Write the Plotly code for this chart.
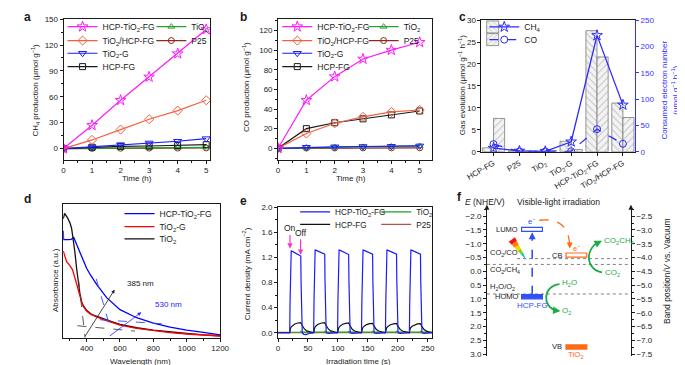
import plotly.graph_objects as go

W, H = 685, 365
FONT = "Liberation Sans, Arial, Helvetica, sans-serif"
INK = "#1a1a1a"

# ======================= DATA =======================
# --- panels a & b: production vs time ---
time_h = [0, 1, 2, 3, 4, 5]
samples_ab = ["HCP-TiO2-FG", "TiO2/HCP-FG", "TiO2-G", "HCP-FG", "TiO2", "P25"]

ch4_HCP_TiO2_FG = [0, 27, 56, 83, 110, 138]
ch4_TiO2_HCP_FG = [0, 10, 22, 34, 44, 56]
ch4_TiO2_G = [0, 2, 4.5, 6.5, 8.5, 11.5]
ch4_HCP_FG = [0, 1.5, 2.5, 3, 3.5, 4.5]
ch4_TiO2 = [0, 0.4, 0.6, 0.8, 1.0, 1.3]
ch4_P25 = [0, 0.2, 0.4, 0.5, 0.6, 0.8]

co_HCP_TiO2_FG = [0, 49, 73, 91, 100, 108]
co_TiO2_HCP_FG = [0, 15, 25.5, 32, 37, 39]
co_TiO2_G = [0, 1, 1.5, 1.8, 2.0, 2.4]
co_HCP_FG = [0, 20, 26, 30, 34, 38]
co_TiO2 = [0, 0.5, 1.0, 1.4, 1.8, 2.4]
co_P25 = [0, 0.2, 0.3, 0.4, 0.4, 0.5]

# --- panel c: evolution rates and consumed electrons ---
samples_c = ["HCP-FG", "P25", "TiO2", "TiO2-G", "HCP-TiO2-FG", "TiO2/HCP-FG"]
rate_ch4 = [0.9, 0.2, 0.1, 2.4, 27.6, 11.1]
rate_co = [7.6, 0.15, 0.3, 0.5, 21.6, 7.8]
electrons_ch4 = [7, 1.5, 0.8, 19, 221, 89]
electrons_co = [14.5, 0.5, 0.6, 1.0, 43, 15]

# --- panel d: UV-vis absorbance ---
wl_HCP_TiO2_FG = [260, 262, 290, 308, 323, 340, 366, 400, 423, 460, 520, 600, 700, 800, 900, 1000, 1100, 1200]
abs_HCP_TiO2_FG = [0.80, 0.735, 0.735, 0.737, 0.75, 0.70, 0.61, 0.52, 0.47, 0.40, 0.30, 0.21, 0.15, 0.11, 0.08, 0.057, 0.04, 0.022]
wl_TiO2_G = [260, 270, 280, 300, 315, 325, 340, 355, 370, 380, 400, 425, 450, 500, 550, 600, 700, 800, 900, 1000, 1100, 1200]
abs_TiO2_G = [0.65, 0.60, 0.57, 0.54, 0.51, 0.47, 0.40, 0.32, 0.27, 0.235, 0.20, 0.175, 0.16, 0.135, 0.115, 0.095, 0.07, 0.052, 0.038, 0.028, 0.02, 0.013]
wl_TiO2 = [260, 268, 285, 300, 310, 320, 330, 340, 350, 360, 370, 380, 400, 425, 450, 500, 550, 600, 700, 800, 900, 1000, 1100, 1200]
abs_TiO2 = [0.89, 0.93, 0.90, 0.86, 0.82, 0.74, 0.64, 0.52, 0.42, 0.33, 0.27, 0.24, 0.205, 0.18, 0.165, 0.14, 0.12, 0.10, 0.075, 0.057, 0.043, 0.032, 0.022, 0.015]
edge_TiO2_nm = 385
edge_HCP_TiO2_FG_nm = 530

# --- panel e: transient photocurrent ---
t_HCP_TiO2_FG = [0, 19.5, 20.1, 20.6, 21.2, 22.0, 24, 30, 38, 38.5, 39.0, 39.6, 40.5, 43, 47, 52, 56,
                 59.5, 60.1, 60.6, 61.2, 62.0, 64, 70, 78, 78.5, 79.0, 79.6, 80.5, 84, 90, 96,
                 99.5, 100.1, 100.6, 101.2, 102.0, 104, 110, 118, 118.5, 119.0, 119.6, 120.5, 124, 130, 136,
                 139.5, 140.1, 140.6, 141.2, 142.0, 144, 150, 158, 158.5, 159.0, 159.6, 160.5, 164, 170, 176,
                 179.5, 180.1, 180.6, 181.2, 182.0, 184, 190, 198, 198.5, 199.0, 199.6, 200.5, 204, 210, 216,
                 219.5, 220.1, 220.6, 221.2, 222.0, 224, 230, 238, 238.5, 239.0, 239.6, 240.5, 244, 250, 258]
j_HCP_TiO2_FG = [0, 0, 0.50, 1.05, 1.26, 1.30, 1.295, 1.265, 1.22, 0.80, 0.30, 0.06, -0.005, -0.025, -0.03, -0.012, 0,
                 0, 0.50, 1.07, 1.28, 1.315, 1.31, 1.285, 1.25, 0.82, 0.30, 0.06, 0.0, -0.01, -0.005, 0,
                 0, 0.50, 1.07, 1.28, 1.315, 1.31, 1.28, 1.245, 0.82, 0.30, 0.06, 0.0, -0.01, -0.005, 0,
                 0, 0.50, 1.07, 1.28, 1.315, 1.31, 1.285, 1.25, 0.82, 0.30, 0.06, 0.0, -0.01, -0.005, 0,
                 0, 0.50, 1.07, 1.28, 1.315, 1.31, 1.285, 1.25, 0.82, 0.30, 0.06, 0.0, -0.01, -0.005, 0,
                 0, 0.50, 1.07, 1.28, 1.315, 1.31, 1.285, 1.25, 0.82, 0.30, 0.06, 0.0, -0.01, -0.005, 0]
t_HCP_FG = [0, 19.5, 20.3, 21.5, 24, 28, 33, 38, 39, 41, 44, 48, 53, 58,
            59.5, 60.3, 61.5, 64, 68, 73, 78, 79, 81, 84, 88, 93, 98,
            99.5, 100.3, 101.5, 104, 108, 113, 118, 119, 121, 124, 128, 133, 138,
            139.5, 140.3, 141.5, 144, 148, 153, 158, 159, 161, 164, 168, 173, 178,
            179.5, 180.3, 181.5, 184, 188, 193, 198, 199, 201, 204, 208, 213, 218,
            219.5, 220.3, 221.5, 224, 228, 233, 238, 239, 241, 244, 248, 253, 258]
j_HCP_FG = [0, 0, 0.05, 0.085, 0.11, 0.14, 0.155, 0.16, 0.14, 0.10, 0.06, 0.03, 0.01, 0,
            0, 0.05, 0.085, 0.115, 0.14, 0.155, 0.16, 0.14, 0.10, 0.06, 0.03, 0.01, 0,
            0, 0.05, 0.08, 0.11, 0.135, 0.15, 0.155, 0.135, 0.095, 0.055, 0.028, 0.01, 0,
            0, 0.048, 0.08, 0.105, 0.13, 0.145, 0.15, 0.13, 0.09, 0.055, 0.028, 0.01, 0,
            0, 0.047, 0.078, 0.105, 0.128, 0.142, 0.148, 0.128, 0.09, 0.053, 0.027, 0.01, 0,
            0, 0.046, 0.077, 0.103, 0.125, 0.14, 0.145, 0.125, 0.088, 0.052, 0.026, 0.01, 0]
t_TiO2 = [0, 38, 38.3, 39, 78, 78.3, 79, 118, 118.3, 119, 158, 158.3, 159, 198, 198.3, 199, 238, 238.3, 239, 258]
j_TiO2 = [0.008, 0.008, 0.03, 0.01, 0.01, 0.03, 0.01, 0.01, 0.03, 0.01, 0.01, 0.03, 0.01, 0.01, 0.03, 0.01, 0.01, 0.03, 0.01, 0.01]
t_P25 = [0, 258]
j_P25 = [0.0, 0.0]
light_on_s = 20
light_off_s = 37.7

# --- panel f: band alignment (E vs NHE, V) ---
level_names = ["LUMO", "HOMO", "CB", "VB"]
level_NHE = [-1.52, 0.92, -0.59, 2.74]
redox_names = ["CO<sub>2</sub>/CO", "CO<sub>2</sub>/CH<sub>4</sub>", "H<sub>2</sub>O/O<sub>2</sub>"]
redox_NHE = [-0.46, -0.25, 0.82]
vacuum_offset = -4.5   # E(vacuum) = -E(NHE) - 4.5

# ======================= HELPERS =======================
def html(s):
    return s.replace("TiO2", "TiO<sub>2</sub>")

def xdom(a, b):
    return [a / W, b / W]

def ydom(top, bot):
    return [1 - bot / H, 1 - top / H]

def ann_px(text, x, y, size=8, color=INK, angle=0, xanchor="center", yanchor="middle"):
    return dict(text=text, x=x / W, y=1 - y / H, xref="paper", yref="paper", showarrow=False,
                font=dict(size=size, color=color, family=FONT), textangle=angle,
                xanchor=xanchor, yanchor=yanchor)

legends = {}
_leg_n = [0]

def new_legend(x_px, y_px, size=8.5):
    _leg_n[0] += 1
    n = _leg_n[0]
    key = "legend" if n == 1 else "legend%d" % n
    legends[key] = dict(x=x_px / W, y=1 - y_px / H, xanchor="left", yanchor="middle",
                        bgcolor="rgba(0,0,0,0)", borderwidth=0, itemwidth=30,
                        font=dict(size=size, family=FONT, color=INK), tracegroupgap=0,
                        itemclick=False, itemdoubleclick=False)
    return key

def axis(**kw):
    base = dict(showline=True, linecolor=INK, linewidth=0.8, ticks="outside", ticklen=3,
                tickwidth=0.8, tickcolor=INK, tickfont=dict(size=8, color=INK, family=FONT),
                showgrid=False, zeroline=False, mirror=True)
    base.update(kw)
    return base

def minor(dt, color=INK):
    return dict(dtick=dt, ticks="outside", ticklen=2, tickwidth=0.7, tickcolor=color, showgrid=False)

STYLE_AB = {
    "HCP-TiO2-FG": dict(color="#FF1AFF", symbol="star-open", size=8),
    "TiO2/HCP-FG": dict(color="#F2603F", symbol="diamond-open", size=7),
    "TiO2-G": dict(color="#1A1AFF", symbol="triangle-down-open", size=7),
    "HCP-FG": dict(color="#1a1a1a", symbol="square-open", size=6),
    "TiO2": dict(color="#2E9E2E", symbol="triangle-up-open", size=6),
    "P25": dict(color="#8B2A20", symbol="circle-open", size=6),
}
CH4 = {"HCP-TiO2-FG": ch4_HCP_TiO2_FG, "TiO2/HCP-FG": ch4_TiO2_HCP_FG, "TiO2-G": ch4_TiO2_G,
       "HCP-FG": ch4_HCP_FG, "TiO2": ch4_TiO2, "P25": ch4_P25}
CO = {"HCP-TiO2-FG": co_HCP_TiO2_FG, "TiO2/HCP-FG": co_TiO2_HCP_FG, "TiO2-G": co_TiO2_G,
      "HCP-FG": co_HCP_FG, "TiO2": co_TiO2, "P25": co_P25}
LEG_A = {"HCP-TiO2-FG": (41, 15), "TiO2/HCP-FG": (41, 29.3), "TiO2-G": (41, 42.3), "HCP-FG": (41, 56),
         "TiO2": (133, 15), "P25": (133, 29.3)}
LEG_B = {"HCP-TiO2-FG": (263.5, 15), "TiO2/HCP-FG": (263.5, 29.3), "TiO2-G": (263.5, 42.3),
         "HCP-FG": (263.5, 56), "TiO2": (353, 15), "P25": (353, 29.3)}

fig = go.Figure()

# ======================= PANEL a & b =======================
for panel, data, leg, xa, ya in (("a", CH4, LEG_A, "x", "y"), ("b", CO, LEG_B, "x2", "y2")):
    for s in samples_ab[::-1]:
        st = STYLE_AB[s]
        fig.add_trace(go.Scatter(
            x=time_h, y=data[s], name=html(s), mode="lines+markers", xaxis=xa, yaxis=ya,
            line=dict(color=st["color"], width=1.2),
            marker=dict(symbol=st["symbol"], size=st["size"], color=st["color"], line=dict(width=1, color=st["color"])),
            legend=new_legend(*leg[s]), hoverinfo="skip"))

# ======================= PANEL c =======================
cats = [html(c) for c in samples_c]
BAR_LINE = dict(color="#6a6a6a", width=0.7)
fig.add_trace(go.Bar(x=cats, y=rate_ch4, name=" ", xaxis="x3", yaxis="y3", offsetgroup="ch4",
                     marker=dict(color="#f3f3f3", line=BAR_LINE,
                                 pattern=dict(shape="\\", fgcolor="#8a8a8a", bgcolor="#f3f3f3", size=5, solidity=0.18)),
                     legend=new_legend(466, 15.3), hoverinfo="skip"))
fig.add_trace(go.Bar(x=cats, y=rate_co, name=" ", xaxis="x3", yaxis="y3", offsetgroup="co",
                     marker=dict(color="#f3f3f3", line=BAR_LINE,
                                 pattern=dict(shape="/", fgcolor="#8a8a8a", bgcolor="#f3f3f3", size=5, solidity=0.18)),
                     legend=new_legend(466, 28.3), hoverinfo="skip"))
BLUE_C = "#2B2BFF"
fig.add_trace(go.Scatter(x=cats, y=electrons_ch4, name="CH<sub>4</sub>", mode="lines+markers", xaxis="x3", yaxis="y4",
                         line=dict(color=BLUE_C, width=1.3),
                         marker=dict(symbol="star-open", size=8, color=BLUE_C, line=dict(width=1, color=BLUE_C)),
                         legend=new_legend(478, 15.3), hoverinfo="skip"))
fig.add_trace(go.Scatter(x=cats, y=electrons_co, name="CO", mode="lines+markers", xaxis="x3", yaxis="y4",
                         line=dict(color=BLUE_C, width=1.3, dash="dash"),
                         marker=dict(symbol="circle-open", size=7, color=BLUE_C, line=dict(width=1, color=BLUE_C)),
                         legend=new_legend(478, 28.3), hoverinfo="skip"))

# ======================= PANEL d =======================
for name, xs, ys, col, ly in (("HCP-TiO2-FG", wl_HCP_TiO2_FG, abs_HCP_TiO2_FG, "#0000FF", 206.7),
                              ("TiO2", wl_TiO2, abs_TiO2, "#111111", 232.7),
                              ("TiO2-G", wl_TiO2_G, abs_TiO2_G, "#FF0000", 220.0)):
    fig.add_trace(go.Scatter(x=xs, y=ys, name=html(name), mode="lines", xaxis="x4", yaxis="y5",
                             line=dict(color=col, width=1.3), legend=new_legend(100, ly), hoverinfo="skip"))

# ======================= PANEL e =======================
for name, xs, ys, col, lx, ly in (("P25", t_P25, j_P25, "#B0544A", 366, 217.7),
                                  ("TiO2", t_TiO2, j_TiO2, "#1AA01A", 366, 205),
                                  ("HCP-FG", t_HCP_FG, j_HCP_FG, "#111111", 282, 217.7),
                                  ("HCP-TiO2-FG", t_HCP_TiO2_FG, j_HCP_TiO2_FG, "#1A1AFF", 282, 205)):
    fig.add_trace(go.Scatter(x=xs, y=ys, name=html(name), mode="lines", xaxis="x5", yaxis="y6",
                             line=dict(color=col, width=1.2), legend=new_legend(lx, ly, size=8.2), hoverinfo="skip"))

# ======================= PANEL f (band diagram) =======================
FX0, FX1 = 480.7, 630.0
FY_TOP_NHE, FY_BOT_NHE = -2.3, 3.05
FY_TOP_PX, FY_BOT_PX = 200.8, 352.2

def fx(px):
    return (px - FX0) / (FX1 - FX0)

def fy(py):
    return FY_TOP_NHE + (py - FY_TOP_PX) / (FY_BOT_PX - FY_TOP_PX) * (FY_BOT_NHE - FY_TOP_NHE)

lv = dict(zip(level_names, level_NHE))
BLUE_F = "#3050F8"
ORANGE_F = "#FF6A14"
GREEN_F = "#1FAA48"
HALF = 0.075
COL_HCP = (fx(516.7), fx(538.3))
COL_TIO2 = (fx(562.7), fx(584.3))
level_cols = {"LUMO": COL_HCP, "HOMO": COL_HCP, "CB": COL_TIO2, "VB": COL_TIO2}

# invisible anchor traces so that both energy scales are drawn
fig.add_trace(go.Scatter(x=[sum(level_cols[n]) / 2 for n in level_names], y=level_NHE, mode="markers",
                         marker=dict(opacity=0, size=1), xaxis="x6", yaxis="y7", showlegend=False, hoverinfo="skip"))
fig.add_trace(go.Scatter(x=[sum(level_cols[n]) / 2 for n in level_names], y=[-e + vacuum_offset for e in level_NHE],
                         mode="markers", marker=dict(opacity=0, size=1), xaxis="x6", yaxis="y8",
                         showlegend=False, hoverinfo="skip"))

shapes = []
annotations = []

# band edge boxes
for nm, color, filled in (("LUMO", BLUE_F, False), ("HOMO", BLUE_F, True),
                          ("CB", ORANGE_F, False), ("VB", ORANGE_F, True)):
    col_x = level_cols[nm]
    shapes.append(dict(type="rect", xref="x6", yref="y7", x0=col_x[0], x1=col_x[1],
                       y0=lv[nm] - HALF, y1=lv[nm] + HALF, line=dict(color=color, width=1.2),
                       fillcolor=color if filled else "white", layer="above"))

# redox potential dotted lines
for nm, e, x0 in zip(redox_names, redox_NHE, (fx(512), 0.0, 0.0)):
    shapes.append(dict(type="line", xref="x6", yref="y7", x0=x0, x1=1.0, y0=e, y1=e,
                       line=dict(color="#808080", width=1, dash="dot"), layer="below"))

# excitation arrow HOMO -> LUMO
xe = fx(527.7)
shapes.append(dict(type="line", xref="x6", yref="y7", x0=xe, x1=xe, y0=lv["HOMO"] - HALF, y1=lv["LUMO"] + HALF + 0.12,
                   line=dict(color=BLUE_F, width=1.6, dash="dash")))
annotations.append(dict(x=xe, y=lv["LUMO"] + HALF + 0.03, xref="x6", yref="y7", ax=0, ay=7, showarrow=True,
                        arrowhead=2, arrowsize=1, arrowwidth=1.4, arrowcolor=BLUE_F, text=""))

# electron transfer LUMO -> CB (orange dashed arc)
p0 = (fx(535), fy(213.5)); pc = (fx(565), fy(210)); p1 = (fx(566.5), fy(238.5))
shapes.append(dict(type="path", xref="x6", yref="y7",
                   path="M %f,%f Q %f,%f %f,%f" % (p0[0], p0[1], pc[0], pc[1], p1[0], p1[1]),
                   line=dict(color=ORANGE_F, width=1.3, dash="dash")))
annotations.append(dict(x=fx(566.6), y=fy(242.5), xref="x6", yref="y7", ax=0, ay=-6, showarrow=True,
                        arrowhead=2, arrowsize=1, arrowwidth=1.2, arrowcolor=ORANGE_F, text=""))

# green reaction arcs
def cubic(pts):
    q = [(fx(a), fy(b)) for a, b in pts]
    return "M %f,%f C %f,%f %f,%f %f,%f" % (q[0] + q[1] + q[2] + q[3])

shapes.append(dict(type="path", xref="x6", yref="y7",
                   path=cubic([(600, 267), (583, 264), (582, 243), (597, 235.5)]),
                   line=dict(color=GREEN_F, width=1.8)))
annotations.append(dict(x=fx(600), y=fy(234.5), xref="x6", yref="y7", ax=-5, ay=2.5, showarrow=True,
                        arrowhead=2, arrowsize=1, arrowwidth=1.5, arrowcolor=GREEN_F, text=""))
shapes.append(dict(type="path", xref="x6", yref="y7",
                   path=cubic([(556, 279), (538, 281), (538, 303), (553, 306)]),
                   line=dict(color=GREEN_F, width=1.8)))
annotations.append(dict(x=fx(557), y=fy(306.5), xref="x6", yref="y7", ax=-6, ay=-0.5, showarrow=True,
                        arrowhead=2, arrowsize=1, arrowwidth=1.5, arrowcolor=GREEN_F, text=""))

# light beam (rainbow wedge)
P1, P2, T = (503.3, 235.5), (509.8, 231.0), (522.0, 254.5)
rainbow = ["#FF1010", "#FF8000", "#FFD200", "#80D800", "#00C8A0", "#2E8CFF"]
for i, c in enumerate(rainbow):
    f0, f1 = i / len(rainbow), (i + 1) / len(rainbow)
    L0 = (P1[0] + f0 * (T[0] - P1[0]), P1[1] + f0 * (T[1] - P1[1]))
    R0 = (P2[0] + f0 * (T[0] - P2[0]), P2[1] + f0 * (T[1] - P2[1]))
    L1 = (P1[0] + f1 * (T[0] - P1[0]), P1[1] + f1 * (T[1] - P1[1]))
    R1 = (P2[0] + f1 * (T[0] - P2[0]), P2[1] + f1 * (T[1] - P2[1]))
    path = "M %f,%f L %f,%f L %f,%f L %f,%f Z" % (L0[0] / W, 1 - L0[1] / H, R0[0] / W, 1 - R0[1] / H,
                                                 R1[0] / W, 1 - R1[1] / H, L1[0] / W, 1 - L1[1] / H)
    shapes.append(dict(type="path", xref="paper", yref="paper", path=path, fillcolor=c, line=dict(width=0)))

# arrows at the top of both energy axes
for xpx in (FX0, FX1):
    annotations.append(dict(x=xpx / W, y=1 - 197.5 / H, xref="paper", yref="paper", ax=0, ay=6, showarrow=True,
                            arrowhead=2, arrowsize=1, arrowwidth=1, arrowcolor=INK, text=""))

def ann_f(text, xpx, e, color=INK, size=7.5, xanchor="center"):
    return dict(text=text, x=fx(xpx), y=e, xref="x6", yref="y7", showarrow=False, xanchor=xanchor, yanchor="middle",
                font=dict(size=size, color=color, family=FONT))

annotations += [
    ann_f("LUMO", 515, lv["LUMO"], xanchor="right"),
    ann_f("HOMO", 515, lv["HOMO"], xanchor="right"),
    ann_f("HCP-FG", 527.5, lv["HOMO"] + 0.30, color=BLUE_F, size=8),
    ann_f("e<sup>−</sup>", 527, lv["LUMO"] - 0.31, color=BLUE_F),
    ann_f("CB", 561, lv["CB"], xanchor="right"),
    ann_f("e<sup>−</sup>", 574, lv["CB"] - 0.27, color=ORANGE_F),
    ann_f("VB", 561, lv["VB"], xanchor="right"),
    ann_f("TiO<sub>2</sub>", 573.5, lv["VB"] + 0.29, color=ORANGE_F, size=8),
    ann_f(redox_names[0], 482, redox_NHE[0] - 0.21, xanchor="left"),
    ann_f(redox_names[1], 482, redox_NHE[1] + 0.22, xanchor="left"),
    ann_f(redox_names[2], 482, redox_NHE[2] - 0.27, xanchor="left"),
    ann_f("H<sub>2</sub>O", 557, fy(277.5), color=GREEN_F, size=8, xanchor="left"),
    ann_f("O<sub>2</sub>", 557, fy(307), color=GREEN_F, size=8, xanchor="left"),
    ann_f("CO<sub>2</sub>", 601.5, fy(267.5), color=GREEN_F, size=8, xanchor="left"),
    ann_f("CO<sub>2</sub>CH<sub>4</sub>", 600, fy(235), color=GREEN_F, size=8, xanchor="left"),
]

# ======================= OTHER ANNOTATIONS =======================
BOLD = lambda s: "<b>%s</b>" % s
annotations += [
    ann_px(BOLD("a"), 4.5, 5, size=12), ann_px(BOLD("b"), 229, 5, size=12), ann_px(BOLD("c"), 455, 5, size=12),
    ann_px(BOLD("d"), 4.5, 192, size=12), ann_px(BOLD("e"), 229, 194, size=12), ann_px(BOLD("f"), 452, 190, size=12),
    ann_px("CH<sub>4</sub> production (μmol g<sup>−1</sup>)", 12, 80, angle=-90),
    ann_px("Time (h)", 118, 171),
    ann_px("CO production (μmol g<sup>−1</sup>)", 231, 77, angle=-90),
    ann_px("Time (h)", 340, 171),
    ann_px("Gas evolution (μmol g<sup>−1</sup> h<sup>−1</sup>)", 455, 75, angle=-90),
    ann_px("Consumed electron number<br>(μmol g<sup>−1</sup> h<sup>−1</sup>)", 670, 80, angle=-90, color="#2B2BFF"),
    ann_px("Absorbance (a.u.)", 33, 275, angle=-90),
    ann_px("Wavelength (nm)", 122, 358.5),
    ann_px("Current density (mA cm<sup>−2</sup>)", 232, 268, angle=-90),
    ann_px("Irradiation time (s)", 348, 358.5),
    ann_px("Band position/<i>V</i> vs. Vacuum", 668, 266, angle=-90, size=8.5),
    ann_px("<i>E</i> (NHE/V)", 479, 195, size=8.5),
    ann_px("Visible-light irradiation", 555, 195, size=8.5),
    # panel d edge labels
    dict(text="%d nm" % edge_TiO2_nm, x=630, y=0.405, xref="x4", yref="y5", showarrow=False, xanchor="left",
         font=dict(size=8, color=INK, family=FONT)),
    dict(text="%d nm" % edge_HCP_TiO2_FG_nm, x=797, y=0.25, xref="x4", yref="y5", showarrow=False, xanchor="left",
         font=dict(size=8, color="#2222FF", family=FONT)),
    dict(x=568, y=0.36, ax=edge_TiO2_nm, ay=0.0, xref="x4", yref="y5", axref="x4", ayref="y5", showarrow=True,
         arrowhead=2, arrowsize=0.9, arrowwidth=0.8, arrowcolor=INK, text=""),
    dict(x=727, y=0.19, ax=edge_HCP_TiO2_FG_nm, ay=0.005, xref="x4", yref="y5", axref="x4", ayref="y5", showarrow=True,
         arrowhead=2, arrowsize=0.9, arrowwidth=0.8, arrowcolor="#2222FF", text=""),
    # panel e on/off
    dict(text="On", x=light_on_s, y=1.66, xref="x5", yref="y6", showarrow=False, font=dict(size=8.5, color=INK, family=FONT)),
    dict(text="Off", x=light_off_s + 1.5, y=1.585, xref="x5", yref="y6", showarrow=False, font=dict(size=8.5, color=INK, family=FONT)),
    dict(x=light_on_s, y=1.34, xref="x5", yref="y6", ax=0, ay=-15, showarrow=True, arrowhead=2, arrowsize=0.9,
         arrowwidth=1.2, arrowcolor="#FF33CC", text=""),
    dict(x=light_off_s, y=1.24, xref="x5", yref="y6", ax=0, ay=-17, showarrow=True, arrowhead=2, arrowsize=0.9,
         arrowwidth=1.2, arrowcolor="#FF33CC", text=""),
]

# panel d tangent lines
for (xa0, ya0, xa1, ya1, c) in ((352, 0.43, 391, 0.0, "#444444"), (345, 0.09, 690, 0.05, "#444444"),
                                (458, 0.44, 540, 0.08, "#3344FF"), (480, 0.135, 850, 0.105, "#3344FF")):
    shapes.append(dict(type="line", xref="x4", yref="y5", x0=xa0, y0=ya0, x1=xa1, y1=ya1,
                       line=dict(color=c, width=0.9, dash="dash")))

# ======================= LAYOUT =======================
fig.update_layout(
    width=W, height=H, autosize=False, margin=dict(l=0, r=0, t=0, b=0),
    paper_bgcolor="white", plot_bgcolor="white", font=dict(family=FONT, size=8, color=INK),
    showlegend=True, hovermode=False, barmode="group", bargap=0.14, bargroupgap=0,
    # a
    xaxis=axis(domain=xdom(42, 194), range=[0, 5.14], anchor="y", dtick=1, tick0=0, minor=minor(0.5)),
    yaxis=axis(domain=ydom(7.3, 151.7), range=[-13.2, 150], anchor="x", tickmode="linear", dtick=30, tick0=0,
               minor=minor(15)),
    # b
    xaxis2=axis(domain=xdom(264.3, 424), range=[0, 5.44], anchor="y2", dtick=1, tick0=0, minor=minor(0.5)),
    yaxis2=axis(domain=ydom(7.3, 151.7), range=[-11.9, 131.6], anchor="x2", tickmode="linear", dtick=20, tick0=0,
                minor=minor(10)),
    # c
    xaxis3=axis(domain=xdom(475, 634.3), range=[-0.47, 5.47], anchor="y3", type="category",
                categoryorder="array", categoryarray=cats, tickangle=-30),
    yaxis3=axis(domain=ydom(8.3, 143.3), range=[0, 30], anchor="x3", dtick=5, tick0=0, mirror=False),
    yaxis4=axis(domain=ydom(8.3, 143.3), range=[0, 250], anchor="x3", overlaying="y3", side="right", dtick=50,
                tick0=0, mirror=False, linecolor="#3333FF", tickcolor="#3333FF",
                tickfont=dict(size=8, color="#3333FF", family=FONT)),
    # d
    xaxis4=axis(domain=xdom(41.7, 204.3), range=[260, 1200], anchor="y5", dtick=200, tick0=0, minor=minor(100)),
    yaxis5=axis(domain=ydom(197, 334), range=[0, 1.0], anchor="x4", showticklabels=False, ticks=""),
    # e
    xaxis5=axis(domain=xdom(264.3, 424.3), range=[0, 258], anchor="y6", dtick=50, tick0=0, minor=minor(25)),
    yaxis6=axis(domain=ydom(200, 334), range=[-0.08, 2.0], anchor="x5", dtick=0.4, tick0=0, tickformat=".1f",
                minor=minor(0.2)),
    # f
    xaxis6=dict(domain=xdom(FX0, FX1), range=[0, 1], anchor="y7", visible=False, showgrid=False, zeroline=False),
    yaxis7=axis(domain=ydom(FY_TOP_PX, FY_BOT_PX), range=[FY_BOT_NHE, FY_TOP_NHE], anchor="x6", dtick=0.5,
                tick0=0, tickformat=".1f", mirror=False, minor=minor(0.25)),
    yaxis8=axis(domain=ydom(FY_TOP_PX, FY_BOT_PX),
                range=[-FY_BOT_NHE + vacuum_offset, -FY_TOP_NHE + vacuum_offset], anchor="x6",
                overlaying="y7", side="right", dtick=0.5, tick0=0, tickformat=".1f", mirror=False, minor=minor(0.25)),
    shapes=shapes, annotations=annotations,
)
fig.update_layout(**legends)
fig.write_html("out.html")
